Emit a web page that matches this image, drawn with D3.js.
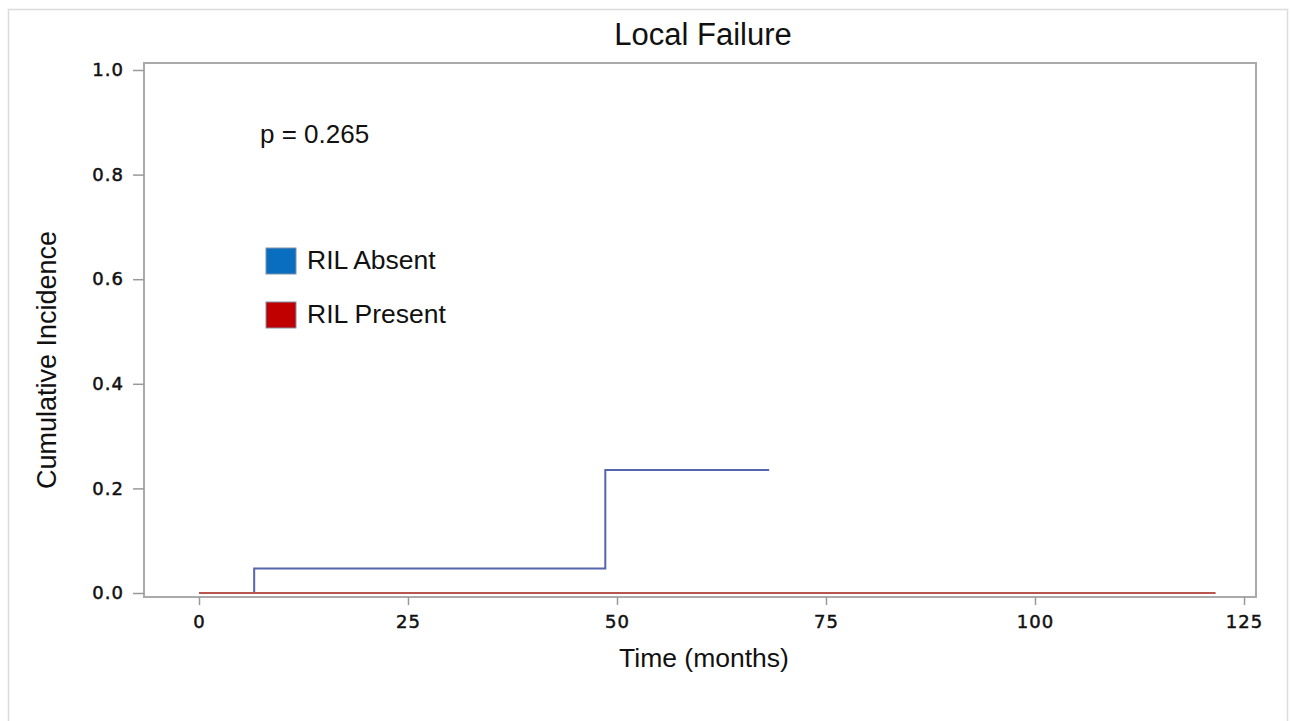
<!DOCTYPE html>
<html>
<head>
<meta charset="utf-8">
<script src="https://cdn.jsdelivr.net/npm/d3@7"></script>
<style>
  body { margin: 0; background: #fff; }
  text { font-family: "Liberation Sans", Arial, sans-serif; fill: #111; }
</style>
</head>
<body>
<script>
// data
var absentTime = [0, 6.6, 48.6, 68.2];
var absentInc = [0, 0.047, 0.235, 0.235];
var presentTime = [0, 121.6];
var presentInc = [0, 0];
var xTicks = [0, 25, 50, 75, 100, 125];
var yTicks = [0, 0.2, 0.4, 0.6, 0.8, 1.0];
var groups = ["RIL Absent", "RIL Present"];
var legendColors = ["#0a6ec0", "#c00000"];
var lineColors = ["#5665ae", "#b9554f"];

var width = 1290,
    height = 721;
var svg = d3.select("body").append("svg").attr("width", width).attr("height", height);

// outer frame
svg.append("rect").attr("x", 8.5).attr("y", 9.5).attr("width", 1279).attr("height", 720)
    .attr("fill", "none").attr("stroke", "#dcdcdc").attr("stroke-width", 1.5);

var x = d3.scaleLinear().domain([0, 125]).range([199, 1244]);
var y = d3.scaleLinear().domain([0, 1]).range([593, 70]);

var pLeft = 144, pRight = 1256, pTop = 63, pBottom = 597;

svg.append("rect").attr("x", pLeft).attr("y", pTop).attr("width", pRight - pLeft).attr("height", pBottom - pTop)
    .attr("fill", "none").attr("stroke", "#aaa").attr("stroke-width", 2);

function styleAxis(g) {
    g.select(".domain").remove();
    g.selectAll(".tick line").attr("stroke", "#999").attr("stroke-width", 1.5);
    g.selectAll(".tick text")
        .style("font-family", "'DejaVu Sans', sans-serif")
        .style("font-size", "18px")
        .style("letter-spacing", "1px")
        .style("fill", "#111")
        .style("stroke", "#111")
        .style("stroke-width", "0.5px");
}

svg.append("g").attr("transform", "translate(" + pLeft + ",0)")
    .call(d3.axisLeft(y).tickValues(yTicks).tickFormat(d3.format(".1f")).tickSize(11).tickPadding(9))
    .call(styleAxis);

svg.append("g").attr("transform", "translate(0," + pBottom + ")")
    .call(d3.axisBottom(x).tickValues(xTicks).tickSize(8).tickPadding(10))
    .call(styleAxis);

var line = d3.line().x(d => x(d[0])).y(d => y(d[1])).curve(d3.curveStepAfter);

var series = [d3.zip(absentTime, absentInc), d3.zip(presentTime, presentInc)];
svg.selectAll("path.km").data(series).enter().append("path")
    .attr("class", "km")
    .attr("d", line)
    .attr("fill", "none")
    .attr("stroke", (d, i) => lineColors[i])
    .attr("stroke-width", 2);

// titles
svg.append("text").attr("x", 703).attr("y", 45).attr("text-anchor", "middle")
    .style("font-size", "31px").text("Local Failure");
svg.append("text").attr("x", 704).attr("y", 667).attr("text-anchor", "middle")
    .style("font-size", "26.5px").text("Time (months)");
svg.append("text").attr("transform", "translate(56,360) rotate(-90)").attr("text-anchor", "middle")
    .style("font-size", "27px").text("Cumulative Incidence");

svg.append("text").attr("x", 260).attr("y", 143).style("font-size", "26px").text("p = 0.265");

// legend
var leg = svg.selectAll("g.leg").data(groups).enter().append("g").attr("class", "leg")
    .attr("transform", (d, i) => "translate(266," + (248 + i * 54) + ")");
leg.append("rect").attr("width", 30).attr("height", 26)
    .attr("fill", (d, i) => legendColors[i]).attr("stroke", "#8090a8").attr("stroke-width", 1);
leg.append("text").attr("x", 41).attr("y", 21).style("font-size", "26.5px").text(d => d);
</script>
</body>
</html>
